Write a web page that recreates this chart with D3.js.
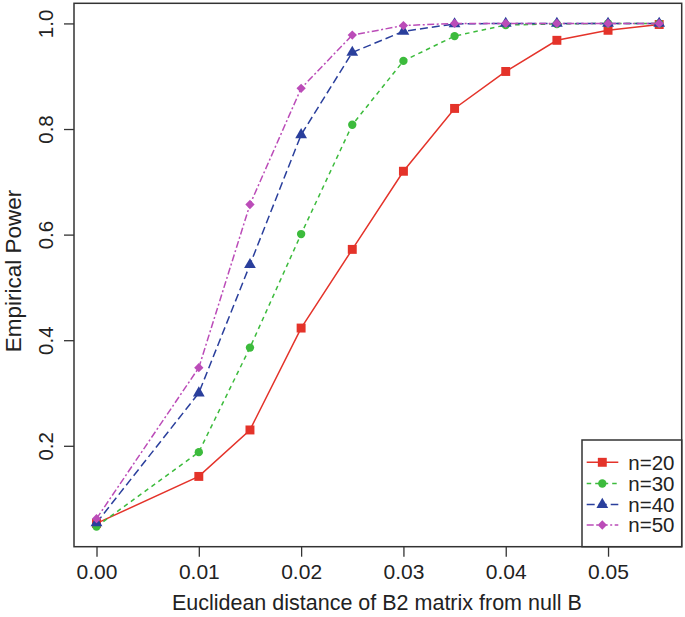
<!DOCTYPE html>
<html>
<head>
<meta charset="utf-8">
<script src="https://cdn.jsdelivr.net/npm/d3@7"></script>
<style>
  html, body { margin: 0; padding: 0; background: #ffffff; }
  svg { display: block; font-family: "Liberation Sans", Arial, Helvetica, sans-serif; }
</style>
</head>
<body>
<svg id="chart" width="685" height="617"></svg>
<script>
// ---- Data ----
const distances = [0.000, 0.010, 0.015, 0.020, 0.025, 0.030, 0.035, 0.040, 0.045, 0.050, 0.055];
const seriesNames = ["n=20", "n=30", "n=40", "n=50"];
const power_n20 = [0.053, 0.142, 0.230, 0.423, 0.572, 0.720, 0.839, 0.909, 0.968, 0.987, 0.998];
const power_n30 = [0.047, 0.188, 0.386, 0.601, 0.808, 0.929, 0.976, 0.997, 0.999, 1.000, 1.000];
const power_n40 = [0.054, 0.300, 0.543, 0.789, 0.945, 0.985, 0.999, 1.000, 1.000, 1.000, 1.000];
const power_n50 = [0.062, 0.348, 0.657, 0.877, 0.978, 0.996, 1.000, 1.000, 1.000, 1.000, 1.000];
const xTicks = [0.00, 0.01, 0.02, 0.03, 0.04, 0.05];
const yTicks = [0.2, 0.4, 0.6, 0.8, 1.0];
const xTitle = "Euclidean distance of B2 matrix from null B";
const yTitle = "Empirical Power";

// ---- Styles ----
const colors = ["#e4332a", "#3cbb3c", "#2a3f9c", "#bb4cb8"];
const dashes = [null, "4.5,4", "8,4", "7,2.5,2,2.5"];
const shapes = [d3.symbolSquare, d3.symbolCircle, d3.symbolTriangle, d3.symbolDiamond2];
const shapeSizes = [80, 55, 60, 55];

const seriesData = [power_n20, power_n30, power_n40, power_n50];

const pLeft = 74, pRight = 681.7, pTop = 3.3, pBottom = 546.7;
const fontSize = 20.5;

const svg = d3.select("#chart");

// R-style 4% padded domains
const xMin = d3.min(distances), xMax = d3.max(distances);
const xPad = 0.04 * (xMax - xMin);
const allY = seriesData.flat();
const yMin = d3.min(allY), yMax = d3.max(allY);
const yPad = 0.04 * (yMax - yMin);

const x = d3.scaleLinear().domain([xMin - xPad, xMax + xPad]).range([pLeft, pRight]);
const y = d3.scaleLinear().domain([yMin - yPad, yMax + yPad]).range([pBottom, pTop]);

// ---- Axes ----
const xAxis = svg.append("g")
  .attr("transform", `translate(0,${pBottom})`)
  .call(d3.axisBottom(x).tickValues(xTicks).tickFormat(d3.format(".2f")).tickSize(10));
xAxis.select(".domain").remove();
xAxis.selectAll(".tick line").attr("stroke", "#333").attr("stroke-width", 1.3);
xAxis.selectAll(".tick text")
  .attr("y", 32.6).attr("dy", 0)
  .attr("font-size", 21).attr("fill", "#222")
  .attr("font-family", "Liberation Sans, Arial, sans-serif");

const yAxis = svg.append("g")
  .attr("transform", `translate(${pLeft},0)`)
  .call(d3.axisLeft(y).tickValues(yTicks).tickFormat(d3.format(".1f")).tickSize(10));
yAxis.select(".domain").remove();
yAxis.selectAll(".tick line").attr("stroke", "#333").attr("stroke-width", 1.3);
yAxis.selectAll(".tick text")
  .attr("x", 0).attr("y", -21.3).attr("dy", 0)
  .attr("transform", "rotate(-90)")
  .attr("text-anchor", "middle")
  .attr("font-size", fontSize).attr("fill", "#222")
  .attr("font-family", "Liberation Sans, Arial, sans-serif");

// Titles
svg.append("text")
  .attr("x", (pLeft + pRight) / 2 - 1).attr("y", 610)
  .attr("text-anchor", "middle")
  .attr("font-size", 21.5).attr("fill", "#222")
  .text(xTitle);

svg.append("text")
  .attr("transform", `translate(21,${(pTop + pBottom) / 2 - 4}) rotate(-90)`)
  .attr("text-anchor", "middle")
  .attr("font-size", 22.5).attr("fill", "#222")
  .text(yTitle);

// ---- Lines & markers ----
const line = d3.line().x((d, i) => x(distances[i])).y(d => y(d));

seriesData.forEach((vals, si) => {
  svg.append("path")
    .datum(vals)
    .attr("d", line)
    .attr("fill", "none")
    .attr("stroke", colors[si])
    .attr("stroke-width", 1.5)
    .attr("stroke-dasharray", dashes[si]);
});

seriesData.forEach((vals, si) => {
  svg.append("g").selectAll("path")
    .data(vals)
    .join("path")
    .attr("transform", (d, i) => `translate(${x(distances[i])},${y(d)})`)
    .attr("d", d3.symbol().type(shapes[si]).size(shapeSizes[si]))
    .attr("fill", colors[si]);
});

// ---- Plot box ----
svg.append("rect")
  .attr("x", pLeft).attr("y", pTop)
  .attr("width", pRight - pLeft).attr("height", pBottom - pTop)
  .attr("fill", "none").attr("stroke", "#333").attr("stroke-width", 1.5);

// ---- Legend ----
const legX = 582, legTop = 440;
const leg = svg.append("g");
leg.append("rect")
  .attr("x", legX).attr("y", legTop)
  .attr("width", pRight - legX).attr("height", pBottom - legTop)
  .attr("fill", "#fff").attr("stroke", "#333").attr("stroke-width", 1.5);

const rowY = [462.3, 483.5, 504.5, 525];
seriesNames.forEach((name, si) => {
  const yy = rowY[si];
  leg.append("line")
    .attr("x1", 586.7).attr("x2", 618.3).attr("y1", yy).attr("y2", yy)
    .attr("stroke", colors[si]).attr("stroke-width", 1.5)
    .attr("stroke-dasharray", dashes[si]);
  leg.append("path")
    .attr("transform", `translate(602.3,${yy})`)
    .attr("d", d3.symbol().type(shapes[si]).size(shapeSizes[si]))
    .attr("fill", colors[si]);
  leg.append("text")
    .attr("x", 628.3).attr("y", yy + 7.3)
    .attr("font-size", fontSize).attr("fill", "#222")
    .text(name);
});
</script>
</body>
</html>
